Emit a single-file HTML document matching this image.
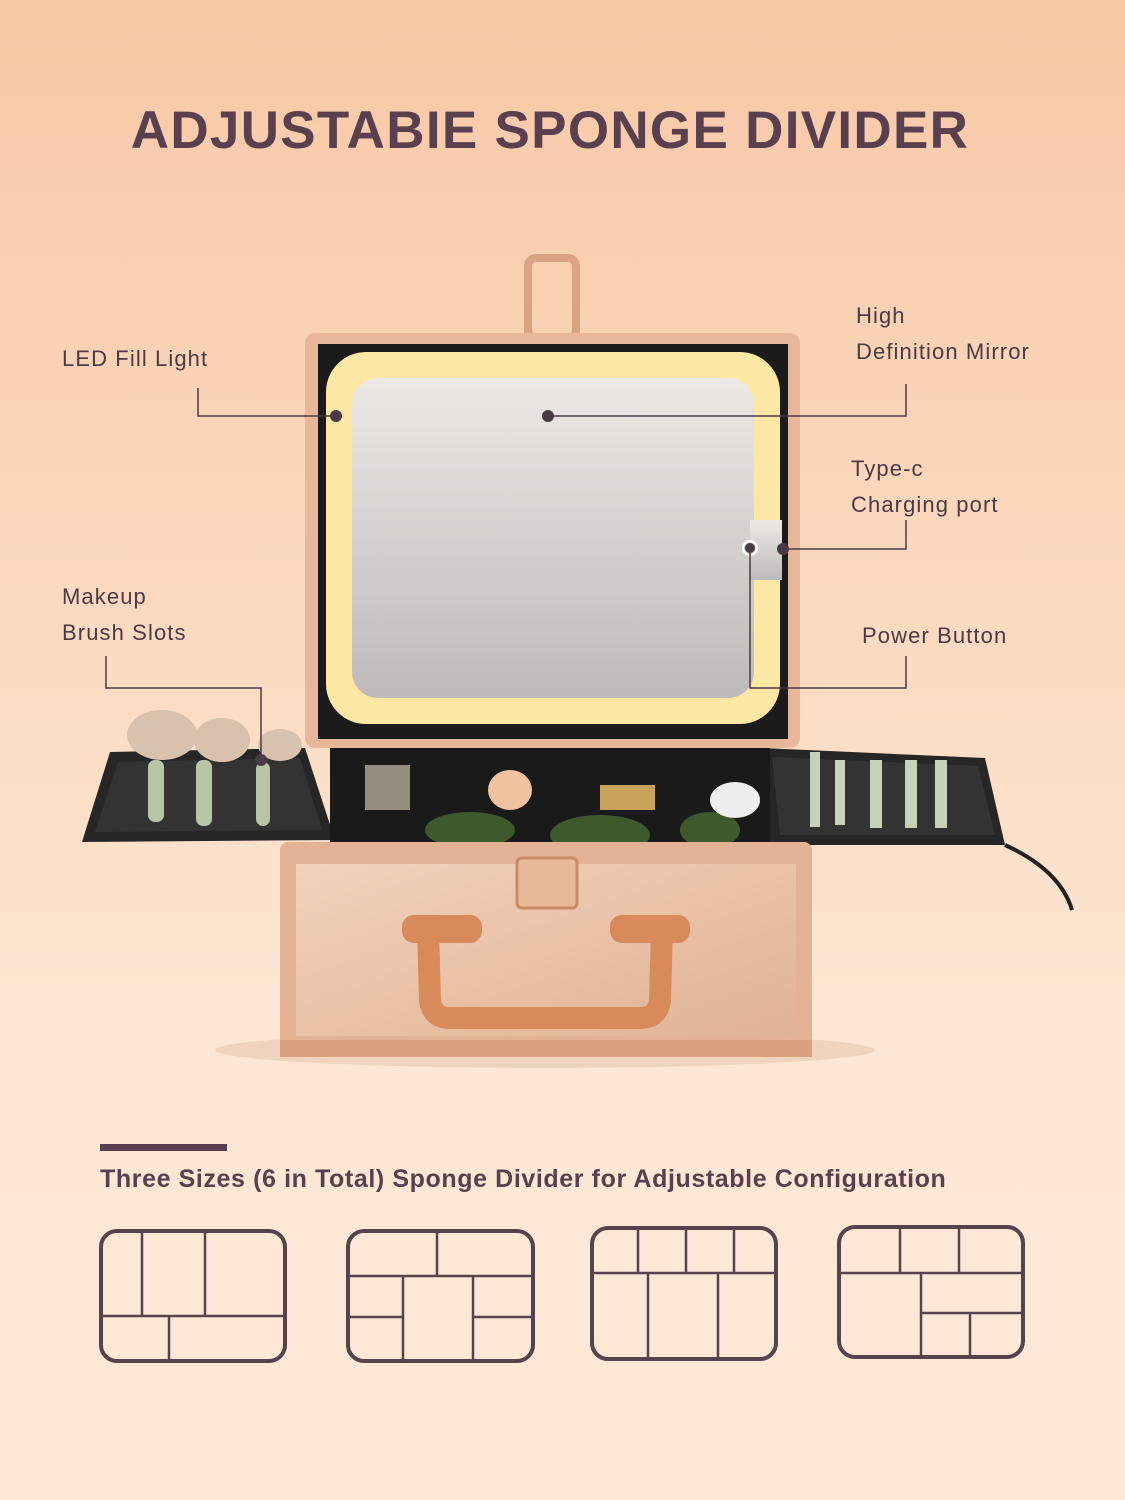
<!DOCTYPE html>
<html><head><style>
body{margin:0;width:1125px;height:1500px;overflow:hidden;background:linear-gradient(180deg,#f7c8a6 0%,#fbd9bf 40%,#fde7d4 70%,#fde8d6 100%);font-family:"Liberation Sans",sans-serif;position:relative}
.t{position:absolute;color:#4a3a45;white-space:nowrap}
</style></head><body>
<div class="t" style="left:0;width:1100px;top:100px;text-align:center;font-size:53px;font-weight:bold;letter-spacing:1.3px;color:#5a3f4e">ADJUSTABIE SPONGE DIVIDER</div>
<div class="t" style="left:62px;top:346px;font-size:22px;letter-spacing:1.1px">LED Fill Light</div>
<div class="t" style="left:856px;top:298px;font-size:22px;letter-spacing:1.1px;line-height:36px">High<br>Definition Mirror</div>
<div class="t" style="left:851px;top:451px;font-size:22px;letter-spacing:1.1px;line-height:36px">Type-c<br>Charging port</div>
<div class="t" style="left:62px;top:579px;font-size:22px;letter-spacing:1.1px;line-height:36px">Makeup<br>Brush Slots</div>
<div class="t" style="left:862px;top:623px;font-size:22px;letter-spacing:1.1px">Power Button</div>
<svg width="1125" height="1500" style="position:absolute;left:0;top:0">
<defs>
<linearGradient id="gold" x1="0" y1="0" x2="1" y2="1"><stop offset="0" stop-color="#f2d2bc"/><stop offset="1" stop-color="#e0b293"/></linearGradient>
<linearGradient id="mir" x1="0" y1="0" x2="0" y2="1"><stop offset="0" stop-color="#ece8e6"/><stop offset="1" stop-color="#bdbab9"/></linearGradient>
</defs>
<ellipse cx="545" cy="1050" rx="330" ry="18" fill="#e8c6ad" opacity=".6"/>
<rect x="528" y="258" width="48" height="80" rx="8" fill="none" stroke="#d9a283" stroke-width="8"/>
<rect x="305" y="333" width="495" height="415" rx="10" fill="#e8b79a"/>
<rect x="318" y="344" width="470" height="395" fill="#1c1b1b"/>
<rect x="326" y="352" width="454" height="372" rx="40" fill="#fde7a4"/>
<rect x="352" y="378" width="402" height="320" rx="26" fill="url(#mir)"/>
<rect x="750" y="520" width="32" height="60" fill="url(#mir)"/>
<circle cx="750" cy="548" r="7" fill="none" stroke="#fff" stroke-width="2"/>
<polygon points="110,752 305,748 335,840 82,842" fill="#262626"/>
<polygon points="118,762 300,758 322,830 95,832" fill="#333"/>
<polygon points="762,748 985,758 1005,845 770,845" fill="#262626"/>
<polygon points="772,757 978,766 995,835 780,835" fill="#333"/>
<path d="M1005 845 Q1060 870 1072 910" stroke="#222" stroke-width="4" fill="none"/>
<g fill="#b8c4a6">
<rect x="148" y="760" width="16" height="62" rx="7"/><rect x="196" y="760" width="16" height="66" rx="7"/><rect x="256" y="762" width="14" height="64" rx="7"/></g>
<g fill="#d8c1ad"><ellipse cx="162" cy="735" rx="35" ry="25"/><ellipse cx="222" cy="740" rx="28" ry="22"/><ellipse cx="280" cy="745" rx="22" ry="16"/></g>
<g fill="#c9d0b8"><rect x="810" y="752" width="10" height="75"/><rect x="835" y="760" width="10" height="65"/><rect x="870" y="760" width="12" height="68"/><rect x="905" y="760" width="12" height="68"/><rect x="935" y="760" width="12" height="68"/></g>
<rect x="330" y="748" width="440" height="100" fill="#1a1a1a"/>
<g fill="#3e5a2d"><ellipse cx="470" cy="830" rx="45" ry="18"/><ellipse cx="600" cy="835" rx="50" ry="20"/><ellipse cx="710" cy="830" rx="30" ry="18"/></g>
<ellipse cx="510" cy="790" rx="22" ry="20" fill="#f1c2a0"/>
<rect x="365" y="765" width="45" height="45" fill="#c8c0a8" opacity=".7"/>
<rect x="600" y="785" width="55" height="25" fill="#c9a25a"/>
<ellipse cx="735" cy="800" rx="25" ry="18" fill="#eee"/>
<rect x="280" y="842" width="532" height="215" rx="8" fill="#e3b194"/>
<rect x="296" y="864" width="500" height="172" fill="url(#gold)"/>
<rect x="280" y="1040" width="532" height="17" fill="#d9a182"/>
<rect x="517" y="858" width="60" height="50" rx="5" fill="#e8b898" stroke="#c98a67" stroke-width="3"/>
<path d="M428 930 L430 1000 Q432 1018 450 1018 L640 1018 Q658 1018 660 1000 L662 930" fill="none" stroke="#d98a5a" stroke-width="22"/>
<rect x="402" y="915" width="80" height="28" rx="12" fill="#d98a5a"/>
<rect x="610" y="915" width="80" height="28" rx="12" fill="#d98a5a"/>
<g stroke="#4a3a45" stroke-width="1.5" fill="none">
<polyline points="198,388 198,416 336,416"/>
<polyline points="548,416 906,416 906,384"/>
<polyline points="783,549 906,549 906,520"/>
<polyline points="750,548 750,688 906,688 906,656"/>
<polyline points="106,656 106,688 261,688 261,760"/>
</g>
<g fill="#4a3a45"><circle cx="336" cy="416" r="6"/><circle cx="548" cy="416" r="6"/><circle cx="783" cy="549" r="6"/><circle cx="750" cy="548" r="5"/><circle cx="261" cy="760" r="6"/></g>
<rect x="100" y="1144" width="127" height="7" fill="#5a3f4e"/>
<g fill="none" stroke="#55434e" stroke-width="4">
<rect x="101" y="1231" width="184" height="130" rx="16"/>
<rect x="348" y="1231" width="185" height="130" rx="16"/>
<rect x="592" y="1228" width="184" height="131" rx="16"/>
<rect x="839" y="1227" width="184" height="130" rx="16"/>
</g>
<g stroke="#55434e" stroke-width="2.5">
<line x1="142" y1="1232" x2="142" y2="1316"/><line x1="205" y1="1232" x2="205" y2="1316"/><line x1="101" y1="1316" x2="285" y2="1316"/><line x1="169" y1="1316" x2="169" y2="1361"/>
<line x1="437" y1="1232" x2="437" y2="1276"/><line x1="348" y1="1276" x2="533" y2="1276"/><line x1="403" y1="1276" x2="403" y2="1361"/><line x1="473" y1="1276" x2="473" y2="1361"/><line x1="348" y1="1317" x2="403" y2="1317"/><line x1="473" y1="1317" x2="533" y2="1317"/>
<line x1="638" y1="1228" x2="638" y2="1273"/><line x1="686" y1="1228" x2="686" y2="1273"/><line x1="734" y1="1228" x2="734" y2="1273"/><line x1="592" y1="1273" x2="776" y2="1273"/><line x1="648" y1="1273" x2="648" y2="1359"/><line x1="718" y1="1273" x2="718" y2="1359"/>
<line x1="900" y1="1227" x2="900" y2="1273"/><line x1="959" y1="1227" x2="959" y2="1273"/><line x1="839" y1="1273" x2="1023" y2="1273"/><line x1="921" y1="1273" x2="921" y2="1357"/><line x1="921" y1="1313" x2="1023" y2="1313"/><line x1="970" y1="1313" x2="970" y2="1357"/>
</g>
</svg>
<div class="t" style="left:100px;top:1165px;font-size:25px;font-weight:bold;letter-spacing:0.6px;color:#5a3f4e">Three Sizes (6 in Total) Sponge Divider for Adjustable Configuration</div>
</body></html>
